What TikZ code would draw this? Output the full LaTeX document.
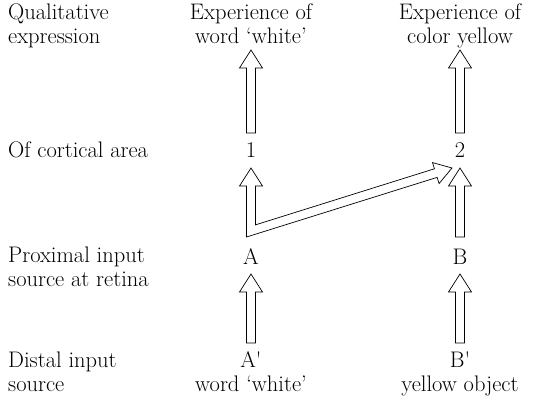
\documentclass[tikz,border=0pt]{standalone}
\usetikzlibrary{calc}
\newcommand\blockup[2]{%
  \draw[blockarr] ($(#1)+(-4.5,0)$) -- ($(#2)+(-4.5,-18)$) -- ($(#2)+(-11.5,-18)$)
    -- (#2) -- ($(#2)+(11.5,-18)$) -- ($(#2)+(4.5,-18)$) -- ($(#1)+(4.5,0)$) -- cycle;}
\begin{document}
\begin{tikzpicture}[x=1pt,y=1pt,
    lab/.style={font=\fontsize{22.5}{24}\selectfont,inner sep=0pt,anchor=base},
    side/.style={lab,anchor=base west,align=left},
    mid/.style={lab,align=center},
    blockarr/.style={draw,fill=white,line width=0.7pt,line join=miter}]
  \useasboundingbox (0,0) rectangle (533,405);

  % row labels (base = last line)
  \node[side] (qual) at (8,361) {Qualitative\\expression};
  \node[side] (cort) at (8,247) {Of cortical area};
  \node[side] (prox) at (8,119) {Proximal input\\source at retina};
  \node[side] (dist) at (8,14) {Distal input\\source};

  % word column
  \node[mid] (expw) at (251,361) {Experience of\\word `white'};
  \node[mid] (1) at (251,247) {1};
  \node[mid] (A) at (251,141) {A};
  \node[mid] (Ap) at (251,14) {A\textquotesingle\\word `white'};

  % colour column
  \node[mid] (expy) at (460,361) {Experience of\\color yellow};
  \node[mid] (2) at (460,247) {2};
  \node[mid] (B) at (460,141) {B};
  \node[mid] (Bp) at (460,14) {B\textquotesingle\\yellow object};

  % arrow ends
  \coordinate (w1b) at ([yshift=25pt]1.base);
  \coordinate (w1t) at ([yshift=-6pt]expw.base);
  \coordinate (y2b) at ([yshift=25pt]2.base);
  \coordinate (y2t) at ([yshift=-6pt]expy.base);
  \coordinate (Bb) at ([yshift=27pt]B.base);
  \coordinate (Bt) at ([yshift=-10pt]2.base);
  \coordinate (Apb) at ([yshift=48pt]Ap.base);
  \coordinate (Apt) at ([yshift=-10pt]A.base);
  \coordinate (Bpb) at ([yshift=48pt]Bp.base);
  \coordinate (Bpt) at ([yshift=-10pt]B.base);

  \blockup{w1b}{w1t}
  \blockup{y2b}{y2t}
  \blockup{Bb}{Bt}
  \blockup{Apb}{Apt}
  \blockup{Bpb}{Bpt}

  % bent arrow A -> 1 and A -> 2
  \coordinate (Ab) at ([yshift=27pt]A.base);
  \coordinate (At) at ([yshift=-10pt]1.base);
  \coordinate (Dt) at ([xshift=-8pt,yshift=-10pt]2.base);
  \coordinate (Dh) at ($(Dt)+(197.4:17)$);
  \coordinate (Du) at ($(Dh)+(107.4:4.5)$);
  \coordinate (Dl) at ($(Dh)+(-72.6:4.5)$);
  \coordinate (Du2) at ($(Du)+(197.4:20)$);
  \coordinate (Ar1) at ($(Ab)+(4.5,0)$);
  \coordinate (Ar2) at ($(At)+(4.5,0)$);
  \coordinate (Dj) at (intersection cs: first line={(Du)--(Du2)}, second line={(Ar1)--(Ar2)});
  \draw[blockarr] ($(Ab)+(-4.5,0)$) -- ($(At)+(-4.5,-18)$) -- ($(At)+(-11.5,-18)$) -- (At)
    -- ($(At)+(11.5,-18)$) -- ($(At)+(4.5,-18)$) -- (Dj) -- (Du) -- ($(Dh)+(107.4:11)$)
    -- (Dt) -- ($(Dh)+(-72.6:11)$) -- (Dl) -- cycle;
\end{tikzpicture}
\end{document}
